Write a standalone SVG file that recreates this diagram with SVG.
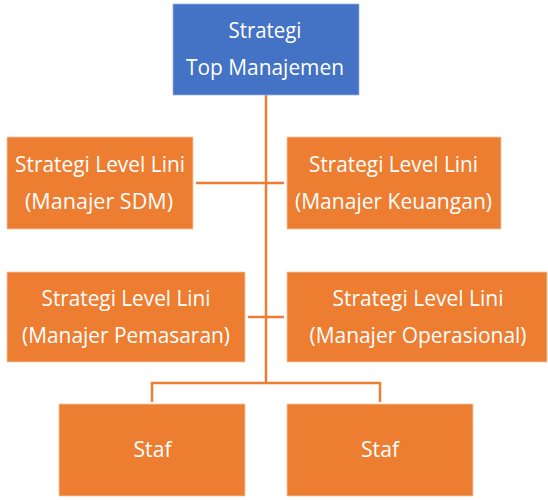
<svg xmlns="http://www.w3.org/2000/svg" width="548" height="500" viewBox="0 0 548 500">
  <style>
    .box { stroke: #f4c7a8; stroke-width: 0.8; }
    .top { fill: #4472C4; stroke: #9db3dd; stroke-width: 0.8; }
    .org { fill: #ED7D31; }
    .lbl { font-family: "Open Sans", "Noto Sans", sans-serif; font-size: 21px; fill: #ffffff; text-anchor: middle; }
    .conn { stroke: #ED7D31; stroke-width: 2.5; fill: none; }
  </style>
  <rect width="548" height="500" fill="#ffffff"/>

  <!-- connectors -->
  <g id="connectors">
    <line class="conn" x1="266" y1="95" x2="266" y2="383"/>
    <line class="conn" x1="196" y1="183" x2="284" y2="183"/>
    <line class="conn" x1="248" y1="317" x2="284" y2="317"/>
    <polyline class="conn" points="152,402 152,383 380,383 380,402"/>
  </g>

  <g id="top-management">
    <rect class="top" x="173" y="4" width="186" height="91"/>
    <text class="lbl" x="265" y="38" textLength="73" lengthAdjust="spacingAndGlyphs">Strategi</text>
    <text class="lbl" x="265" y="75" textLength="158" lengthAdjust="spacingAndGlyphs">Top Manajemen</text>
  </g>

  <g id="sdm">
    <rect class="box org" x="7" y="137" width="186" height="92"/>
    <text class="lbl" x="100" y="172" textLength="170" lengthAdjust="spacingAndGlyphs">Strategi Level Lini</text>
    <text class="lbl" x="99" y="209" textLength="148" lengthAdjust="spacingAndGlyphs">(Manajer SDM)</text>
  </g>

  <g id="keuangan">
    <rect class="box org" x="287" y="137" width="214" height="92"/>
    <text class="lbl" x="393.5" y="172" textLength="169" lengthAdjust="spacingAndGlyphs">Strategi Level Lini</text>
    <text class="lbl" x="393.5" y="209" textLength="197" lengthAdjust="spacingAndGlyphs">(Manajer Keuangan)</text>
  </g>

  <g id="pemasaran">
    <rect class="box org" x="7" y="272" width="238" height="90"/>
    <text class="lbl" x="126" y="306" textLength="169" lengthAdjust="spacingAndGlyphs">Strategi Level Lini</text>
    <text class="lbl" x="126" y="343" textLength="208" lengthAdjust="spacingAndGlyphs">(Manajer Pemasaran)</text>
  </g>

  <g id="operasional">
    <rect class="box org" x="287" y="272" width="260" height="90"/>
    <text class="lbl" x="418" y="306" textLength="171" lengthAdjust="spacingAndGlyphs">Strategi Level Lini</text>
    <text class="lbl" x="418" y="343" textLength="217" lengthAdjust="spacingAndGlyphs">(Manajer Operasional)</text>
  </g>

  <g id="staf-1">
    <rect class="box org" x="59" y="404" width="186" height="92"/>
    <text class="lbl" x="152.5" y="457" textLength="38" lengthAdjust="spacingAndGlyphs">Staf</text>
  </g>

  <g id="staf-2">
    <rect class="box org" x="287" y="404" width="186" height="92"/>
    <text class="lbl" x="380" y="457" textLength="38" lengthAdjust="spacingAndGlyphs">Staf</text>
  </g>
</svg>
